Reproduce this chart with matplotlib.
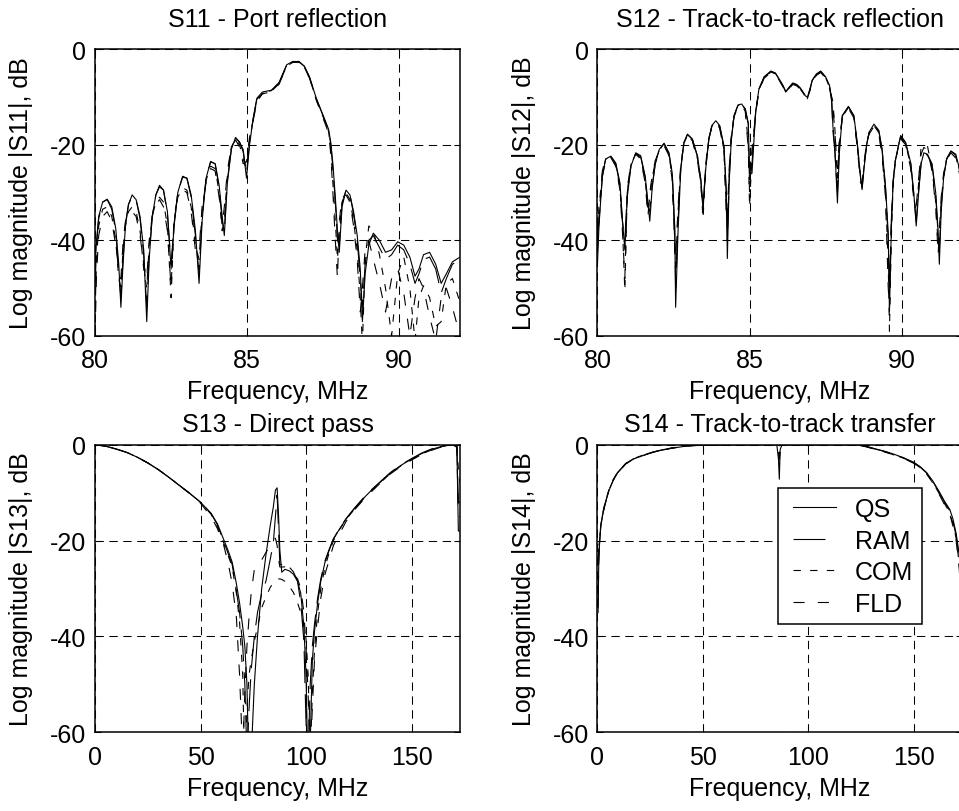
import matplotlib.pyplot as plt
from matplotlib.legend_handler import HandlerLine2D

plt.rcParams['font.family'] = ['Liberation Sans', 'DejaVu Sans']
plt.rcParams['font.size'] = 18
plt.rcParams['axes.unicode_minus'] = False
plt.rcParams['lines.scale_dashes'] = False

# S11 - port reflection, 80..92 MHz
f11 = [80.00, 80.05, 80.12, 80.25, 80.40, 80.55, 80.68, 80.78, 80.85, 80.92,
       81.00, 81.10, 81.22, 81.35, 81.48, 81.60, 81.70, 81.78, 81.88, 82.00,
       82.12, 82.25, 82.38, 82.50, 82.60, 82.72, 82.88, 83.02, 83.16, 83.30,
       83.42, 83.52, 83.65, 83.80, 83.95, 84.08, 84.18, 84.25, 84.35, 84.48,
       84.62, 84.75, 84.87, 84.98, 85.08, 85.20, 85.32, 85.50, 85.80, 86.05,
       86.30, 86.50, 86.70, 86.88, 87.05, 87.28, 87.50, 87.68, 87.75, 87.82,
       87.90, 87.97, 88.03, 88.12, 88.25, 88.38, 88.50, 88.62, 88.72, 88.79,
       88.88, 89.00, 89.15, 89.35, 89.55, 89.75, 89.95, 90.15, 90.35, 90.52,
       90.65, 90.80, 91.00, 91.20, 91.38, 91.55, 91.75, 92.00]
s11_qs = [-46, -40, -35, -32, -31.4, -33, -37.5, -45, -54, -45,
          -37, -32.5, -30.5, -31.5, -35, -42, -57, -44, -35, -30.5,
          -28.5, -29.5, -34, -46, -37, -30, -26.6, -27, -30.5, -38,
          -49, -36, -27, -23.5, -24, -28.5, -35, -39, -28, -21,
          -18.5, -19.5, -21, -27, -20, -14.5, -10.3, -9.0, -8.6, -7.0,
          -3.3, -2.6, -2.6, -3.6, -5.8, -10.4, -13.9, -16.8, -19.5, -24,
          -31, -38, -42.5, -33, -29.5, -30.5, -34, -39, -46, -57,
          -47, -41, -38.5, -40, -42.5, -42, -40.3, -41, -43.5, -47.5,
          -46, -43, -42.5, -45, -49, -47, -44.5, -43.5]
s11_ram = [-50, -41, -35.5, -32, -31.5, -33.5, -38, -47, -52, -44,
           -36.5, -32.5, -30.8, -31.5, -35.5, -43, -54, -43, -35, -30.5,
           -28.8, -29.5, -34.5, -45, -36.5, -30, -26.8, -27, -31, -39,
           -47, -35, -27, -23.6, -24, -29, -36, -38, -27.5, -21,
           -18.6, -19.4, -21.5, -26, -19.5, -14.5, -10.5, -9.2, -8.7, -7.1,
           -3.4, -2.7, -2.6, -3.6, -5.9, -10.5, -14, -17, -20, -25,
           -32, -40, -41, -32.5, -29.5, -30.5, -34.5, -40, -48, -54,
           -45, -40, -39, -41.5, -44, -43, -41, -42, -45, -49,
           -47, -44, -43.5, -46, -51, -48, -45, -44]
s11_com = [-55, -44, -37, -33.5, -33, -35, -40, -48, -50, -42,
           -37, -34, -33, -34, -38, -46, -50, -41, -35, -32,
           -31, -32, -37, -52, -36, -31, -29, -29.5, -33, -41,
           -44, -34, -27.5, -24.5, -25, -30, -38, -36, -26.5, -20.5,
           -18.8, -20, -23, -25, -19, -14.8, -10.8, -9.3, -8.8, -7.3,
           -3.5, -2.7, -2.7, -3.8, -6.0, -10.7, -14.2, -17.3, -21, -28,
           -36, -44, -38, -32, -30, -31.5, -36, -42, -52, -62,
           -44, -37, -38, -43, -50, -60, -47, -43.5, -50, -61,
           -52, -49.5, -52, -58, -57, -49, -48, -53]
s11_fld = [-60, -47, -39, -35, -34, -36, -41, -46, -48, -40.5,
           -36, -34.5, -34, -35, -39, -45, -48, -40, -35, -32.5,
           -31.5, -33, -38, -50, -35, -31, -29.5, -30, -34, -42,
           -42, -33, -28, -25, -25.5, -31, -37, -33, -25.5, -20.5,
           -19, -20.5, -24, -23.5, -18.5, -15, -11, -9.4, -8.9, -7.4,
           -3.6, -2.8, -2.8, -3.9, -6.1, -10.8, -14.5, -17.6, -22, -30,
           -40, -48, -36, -31, -30.5, -32, -37, -44, -55, -50,
           -42, -40, -44, -49, -55, -48, -46, -51, -60, -52,
           -48, -50, -56, -61, -52, -50, -54, -60]

# S12 - track-to-track reflection, 80..92 MHz
f12 = [80.00, 80.05, 80.16, 80.27, 80.44, 80.60, 80.74, 80.82, 80.90, 80.98,
       81.10, 81.26, 81.42, 81.57, 81.66, 81.72, 81.80, 81.90, 82.03, 82.19,
       82.35, 82.46, 82.54, 82.57, 82.65, 82.74, 82.84, 82.96, 83.12, 83.29,
       83.40, 83.47, 83.56, 83.66, 83.76, 83.89, 84.02, 84.16, 84.24, 84.27,
       84.33, 84.40, 84.49, 84.62, 84.74, 84.86, 84.96, 85.00, 85.08, 85.20,
       85.31, 85.48, 85.70, 85.85, 85.97, 86.10, 86.19, 86.30, 86.42, 86.55,
       86.65, 86.74, 86.84, 86.90, 86.98, 87.06, 87.20, 87.34, 87.50, 87.63,
       87.70, 87.74, 87.80, 87.89, 87.95, 88.05, 88.25, 88.43, 88.54, 88.65,
       88.70, 88.78, 88.85, 88.93, 89.09, 89.25, 89.36, 89.47, 89.56, 89.60,
       89.66, 89.72, 89.80, 89.97, 90.13, 90.30, 90.40, 90.48, 90.56, 90.64,
       90.73, 90.85, 91.00, 91.12, 91.20, 91.24, 91.30, 91.38, 91.48, 91.62,
       91.78, 91.90, 92.00]
s12_qs = [-45, -37, -26.6, -23, -22.4, -23.8, -28, -35.7, -42, -31,
          -24.5, -21.7, -22.3, -26.6, -32, -36, -29, -24, -21, -19.7,
          -21.7, -26, -37, -54, -38, -25, -19.5, -17.8, -18.8, -22.4,
          -27.3, -33.6, -25, -19, -16, -15, -16, -20.3, -30, -43.8,
          -28, -19, -13.9, -11.7, -11.5, -12.5, -15.5, -26, -26, -13.2,
          -8.3, -5.8, -4.6, -5.0, -6.2, -7.6, -8.9, -8.0, -7.1, -7.4,
          -8.0, -8.8, -9.8, -10.1, -8.5, -6.5, -5.2, -4.6, -5.8, -7.6,
          -10.5, -16, -20.3, -32.2, -22, -13.9, -12.0, -13.9, -19.5, -26.6,
          -29.4, -24, -20, -17.4, -15.7, -17.0, -21, -28.7, -38.5, -55,
          -38, -28, -23, -18.1, -19.5, -23.8, -30.1, -37, -30, -24,
          -21.7, -22, -24, -30, -38, -45, -34, -27, -23, -21.3,
          -22, -25, -29]
s12_ram = [-40, -36, -26.8, -23.2, -22.5, -24, -28.5, -36, -40, -30,
           -24.5, -21.8, -22.5, -27, -33, -34, -28.5, -24, -21.2, -19.8,
           -21.8, -26.5, -38, -50, -36, -25, -19.6, -17.9, -18.9, -22.6,
           -27.6, -33, -24.5, -19, -16.1, -15.1, -16.2, -20.6, -31, -40,
           -27, -19, -14, -11.8, -11.6, -12.6, -15.8, -28, -24, -13.3,
           -8.4, -5.9, -4.7, -5.1, -6.3, -7.7, -9.0, -8.1, -7.2, -7.5,
           -8.1, -8.9, -9.9, -10.2, -8.6, -6.6, -5.3, -4.7, -5.9, -7.8,
           -11, -17, -21, -30, -21, -14, -12.1, -14, -19.8, -27,
           -29, -23.8, -20, -17.5, -15.8, -17.2, -21.3, -29, -40, -50,
           -36, -27.5, -22.8, -18.2, -19.6, -24, -30.5, -36, -29.5, -23.8,
           -21.8, -22.2, -24.3, -30.5, -39, -42, -33, -26.8, -23, -21.4,
           -22.2, -25.3, -29.5]
s12_com = [-38, -33, -26, -23, -22.6, -24.2, -29, -37, -50.5, -30,
           -24.2, -21.9, -22.8, -27.5, -34, -31, -27, -23.5, -21.2, -20,
           -22, -27, -40, -46, -34, -24.5, -19.8, -18, -19, -23,
           -28, -35.5, -25, -18.8, -16.2, -15.2, -16.4, -21, -34, -37,
           -26, -18.5, -14, -11.8, -11.6, -12.8, -20, -33, -22, -13.5,
           -8.5, -6.0, -4.8, -5.2, -6.4, -7.8, -9.1, -8.2, -7.3, -7.6,
           -8.2, -9.0, -10.0, -10.3, -8.7, -6.7, -5.4, -4.8, -6.0, -8.0,
           -10, -11, -16, -27, -20, -14.2, -12.2, -14.2, -20, -27.5,
           -28.5, -23.5, -19.8, -17.6, -16, -17.5, -22, -30, -45, -59,
           -40, -28.5, -23, -18.5, -19.8, -24.5, -31, -34, -28, -20.3,
           -20.3, -20.3, -25, -32, -41, -40, -32, -26.5, -23, -21.5,
           -22.5, -25.5, -30]
s12_fld = [-42, -35, -25.5, -22.8, -22.7, -24.5, -29.5, -38, -48, -29,
           -24, -22, -23, -28, -35, -30, -26.5, -23.3, -21.4, -20.2,
           -22.3, -27.5, -42, -44, -33, -24, -20, -18.2, -19.2, -23.4,
           -28.5, -34, -24, -18.6, -16.4, -15.4, -16.6, -21.5, -36, -35,
           -25, -18.3, -14.2, -12, -11.8, -13, -21, -30, -21, -13.6,
           -8.6, -6.1, -4.9, -5.3, -6.5, -7.9, -9.2, -8.3, -7.4, -7.7,
           -8.3, -9.1, -10.1, -10.4, -8.8, -6.8, -5.5, -4.9, -6.1, -8.2,
           -10.2, -12, -17, -25, -19, -14.4, -12.4, -14.4, -20.5, -28,
           -28, -23, -19.6, -17.8, -16.2, -17.8, -22.5, -31, -50, -54,
           -37, -28, -23.2, -18.8, -20, -25, -31.5, -33, -27, -22,
           -20.6, -21, -25.5, -33, -43, -38, -31, -26, -23.2, -21.7,
           -22.8, -26, -31]

# S13 - direct pass, 0..173 MHz
f13 = [0, 5, 10, 15, 20, 25, 30, 35, 40, 45,
       50, 55, 58, 61, 63, 65, 67, 68.5, 70, 71,
       72, 73, 74, 75.5, 77, 79, 81, 83, 84.5, 85.5,
       86.3, 87, 87.6, 88.5, 90, 92, 94, 96, 97.5, 99,
       100, 101, 102, 103, 104, 105.5, 107, 109, 111, 113,
       116, 119, 123, 127, 131, 135, 140, 145, 150, 155,
       160, 164, 168, 170, 171.5, 172.2, 173]
s13_qs = [0, -0.3, -0.9, -1.6, -2.6, -3.8, -5.2, -6.8, -8.5, -10.2,
          -12, -14.3, -16.5, -19.8, -22, -24.5, -29, -33, -38, -42,
          -50, -70, -65, -50, -40, -30, -23, -17, -13, -9.5,
          -9, -15, -22, -26.6, -26, -26.3, -27, -28.5, -31, -38,
          -48, -70, -62, -45, -39, -33, -28.5, -24.5, -22, -19.7,
          -17.5, -15.5, -13.3, -11.3, -9.5, -7.9, -5.9, -4.3, -3, -1.8,
          -0.9, -0.4, 0, -0.1, -0.3, -18, -18]
s13_ram = [0, -0.3, -0.9, -1.6, -2.6, -3.8, -5.2, -6.8, -8.5, -10.2,
           -12, -14.4, -16.7, -20.2, -22.6, -25, -30.5, -35, -42, -50,
           -65, -55, -47, -40, -35, -31, -28.5, -24, -20.5, -15,
           -10.5, -18, -25, -25, -24.5, -25.5, -26.5, -28.5, -33, -41,
           -58, -65, -50, -42, -37.5, -32, -28, -24.2, -21.8, -19.6,
           -17.4, -15.4, -13.2, -11.2, -9.4, -7.8, -5.8, -4.2, -2.9, -1.7,
           -0.8, -0.3, 0, -0.1, -0.4, -12, -12]
s13_com = [0, -0.3, -0.9, -1.6, -2.6, -3.8, -5.2, -6.8, -8.5, -10.2,
           -12, -14.5, -17, -20.5, -23, -25.5, -31, -37, -48, -70,
           -55, -48, -45, -41, -38, -34, -31.8, -29.8, -28.8, -28.3,
           -28.1, -28, -28, -28.1, -28.5, -29.5, -30.8, -33, -35, -38,
           -40.5, -48, -65, -52, -43, -35, -30, -25.5, -22.5, -20,
           -17.6, -15.6, -13.4, -11.4, -9.6, -8.0, -6.0, -4.4, -3.1, -1.9,
           -1.0, -0.4, -0.1, -0.1, -0.3, -5, -8]
s13_fld = [0, -0.3, -0.9, -1.6, -2.6, -3.8, -5.2, -6.8, -8.5, -10.2,
           -12.2, -15, -17.5, -21, -24.5, -29, -36, -48, -65, -52,
           -42, -36, -31, -26, -25, -24, -22.5, -21, -20, -19.5,
           -21, -24, -25.5, -25.5, -25.5, -26, -27, -28, -30, -35,
           -42, -52, -65, -55, -45, -38, -32, -27, -24, -21,
           -18.5, -16, -13.6, -11.6, -9.8, -8.1, -6.1, -4.5, -3.2, -2.0,
           -1.1, -0.5, -0.1, -0.2, -0.5, -15, -15]

# S14 - track-to-track transfer, 0..173 MHz
f14 = [0.3, 0.6, 1.0, 1.6, 2.4, 3.2, 4.3, 5.5, 7.5, 9.5,
       13.4, 17, 21.4, 25, 29.3, 35, 40.3, 45, 50, 60,
       70, 80, 85, 85.8, 86.2, 86.6, 87.5, 100, 110, 120,
       124, 128, 132, 136, 140, 145, 150, 153, 156, 159,
       162, 164.5, 167, 168.5, 170, 171.5, 172.5, 173]
s14_qs = [-35, -25, -20.5, -17, -14.8, -13.2, -11.3, -9.5, -7.4, -5.9,
          -4.0, -3.0, -2.3, -1.75, -1.25, -0.75, -0.4, -0.2, -0.1, 0,
          0, 0, 0, -3, -7.2, -1, 0, 0, 0, 0,
          -0.05, -0.4, -0.9, -1.35, -1.9, -2.7, -3.7, -4.6, -5.8, -7.6,
          -9.8, -11.8, -13.5, -15.5, -18.5, -23, -30, -40]
s14_ram = [-34, -24.5, -20.3, -16.9, -14.7, -13.1, -11.2, -9.4, -7.3, -5.8,
           -3.95, -2.95, -2.25, -1.7, -1.2, -0.7, -0.38, -0.18, -0.08, 0,
           0, 0, 0, 0, -0.2, 0, 0, 0, 0, 0,
           -0.1, -0.45, -0.95, -1.4, -1.95, -2.75, -3.75, -4.7, -5.9, -7.7,
           -10, -12, -13.8, -16, -19, -24, -32, -42]
s14_com = [-24.5, -21.5, -19.8, -16.5, -14.5, -12.9, -11.1, -9.3, -7.3, -5.8,
           -3.9, -2.9, -2.2, -1.7, -1.2, -0.7, -0.35, -0.15, -0.05, 0,
           0, 0, 0, -1.5, -4, -0.5, 0, 0, 0, 0,
           -0.1, -0.5, -1.0, -1.45, -2.0, -2.8, -3.8, -4.8, -6.0, -7.9,
           -10.2, -12.3, -14.2, -16.5, -19.5, -25, -33, -45]
s14_fld = [-24, -21.8, -20, -16.7, -14.6, -13, -11.2, -9.4, -7.4, -5.9,
           -4.0, -3.0, -2.3, -1.75, -1.25, -0.75, -0.4, -0.2, -0.1, 0,
           0, 0, 0, -1, -3, -0.3, 0, 0, 0, 0,
           -0.12, -0.5, -1.0, -1.5, -2.05, -2.85, -3.9, -4.9, -6.1, -8.0,
           -10.4, -12.5, -14.5, -17, -20, -26, -35, -48]

names = ['QS', 'RAM', 'COM', 'FLD']
styles = {'QS': '-', 'RAM': (0, (23, 8)), 'COM': (0, (5.3, 6.7)), 'FLD': (0, (8, 9.5))}

panels = [
    (f11, [s11_qs, s11_ram, s11_com, s11_fld], 'S11 - Port reflection',
     'Log magnitude |S11|, dB', (80, 92), [80, 85, 90]),
    (f12, [s12_qs, s12_ram, s12_com, s12_fld], 'S12 - Track-to-track reflection',
     'Log magnitude |S12|, dB', (80, 92), [80, 85, 90]),
    (f13, [s13_qs, s13_ram, s13_com, s13_fld], 'S13 - Direct pass',
     'Log magnitude |S13|, dB', (0, 173), [0, 50, 100, 150]),
    (f14, [s14_qs, s14_ram, s14_com, s14_fld], 'S14 - Track-to-track transfer',
     'Log magnitude |S14|, dB', (0, 173), [0, 50, 100, 150]),
]

# axes boxes in figure fractions (right column runs past the edge, as in the source)
positions = [
    [0.0991, 0.5850, 0.3806, 0.3534],
    [0.6230, 0.5850, 0.3806, 0.3534],
    [0.0991, 0.0969, 0.3806, 0.3542],
    [0.6230, 0.0969, 0.3806, 0.3542],
]
title_pads = [16.5, 16.5, 10, 10]

fig = plt.figure(figsize=(9.59, 8.12), dpi=100)

for i, (freq, series, title, ylab, xlim, xticks) in enumerate(panels):
    ax = fig.add_axes(positions[i])
    for name, vals in reversed(list(zip(names, series))):
        ax.plot(freq, vals, color='black', linewidth=0.8, linestyle=styles[name], label=name)
    ax.set_xlim(*xlim)
    ax.set_ylim(-60, 0)
    ax.set_xticks(xticks)
    ax.set_yticks([0, -20, -40, -60])
    ax.grid(True, color='black', linestyle=(0, (6, 4)), linewidth=0.75)
    ax.tick_params(direction='in', top=True, right=True, length=4, width=0.75)
    ax.tick_params(axis='x', pad=9)
    ax.tick_params(axis='y', pad=6.2)
    for sp in ax.spines.values():
        sp.set_linewidth(1.1)
    ax.set_title(title, fontsize=18, pad=title_pads[i])
    ax.set_xlabel('Frequency, MHz', labelpad=5)
    ax.set_ylabel(ylab, labelpad=12)

    if i == 3:
        handles, labels = ax.get_legend_handles_labels()
        order = [labels.index(n) for n in names]
        leg = ax.legend([handles[k] for k in order], names, loc='upper left',
                        bbox_to_anchor=(0.4953, 0.8484), borderaxespad=0,
                        fancybox=False, framealpha=1, edgecolor='black',
                        borderpad=0.35, handlelength=1.96, handletextpad=0.76,
                        labelspacing=0.3, fontsize=18,
                        handler_map={h: HandlerLine2D(xpad=0.24) for h in handles})
        leg.get_frame().set_linewidth(1.1)

fig.savefig('out.png', dpi=100)
